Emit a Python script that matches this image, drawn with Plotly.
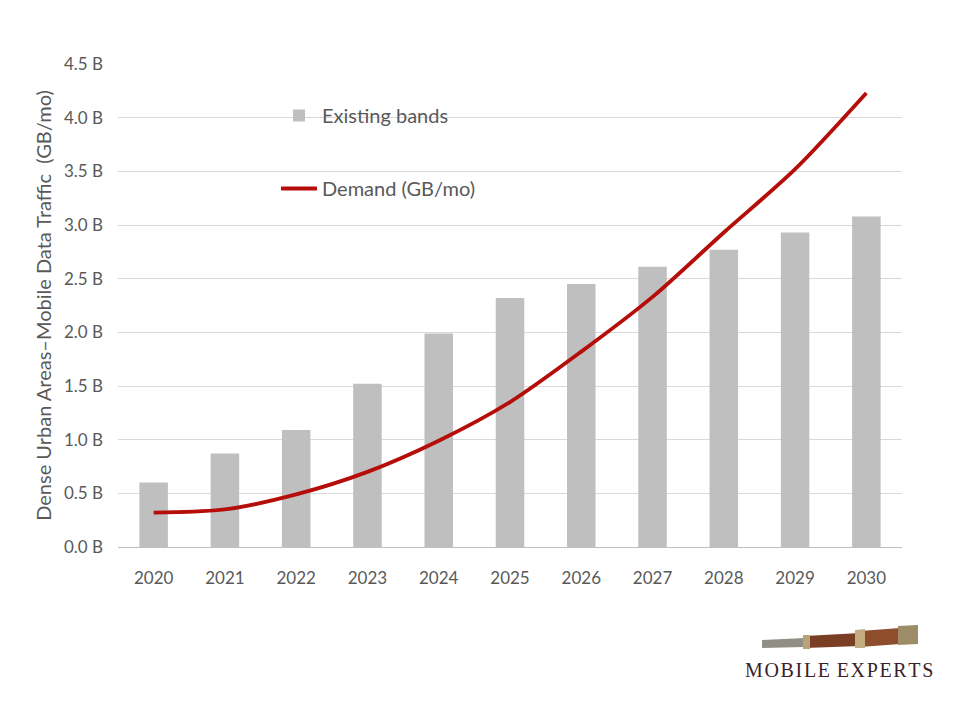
import plotly.graph_objects as go

years = ["2020", "2021", "2022", "2023", "2024", "2025", "2026", "2027", "2028", "2029", "2030"]
existing_bands = [0.60, 0.87, 1.09, 1.52, 1.99, 2.32, 2.45, 2.61, 2.77, 2.93, 3.08]
demand = [0.32, 0.35, 0.49, 0.70, 0.99, 1.35, 1.82, 2.33, 2.93, 3.52, 4.23]
y_ticks = [0, 0.5, 1.0, 1.5, 2.0, 2.5, 3.0, 3.5, 4.0, 4.5]
y_tick_labels = ["0.0 B", "0.5 B", "1.0 B", "1.5 B", "2.0 B", "2.5 B", "3.0 B", "3.5 B", "4.0 B", "4.5 B"]

ML, MR, MT, MB = 118, 58, 64, 173
W, H = 960, 720
PW, PH = W - ML - MR, H - MT - MB

def px(x):
    return (x - ML) / PW

def py(y):
    return (H - MB - y) / PH

font_main = "Lato, 'Open Sans', sans-serif"
grey_txt = "#595959"

fig = go.Figure()
fig.add_trace(go.Bar(
    x=years, y=existing_bands, name="Existing bands",
    marker=dict(color="#bfbfbf", line=dict(width=0)),
    legendgroup="a",
))
fig.add_trace(go.Scatter(
    x=years, y=demand, name="Demand (GB/mo)", mode="lines",
    line=dict(color="#b50d0a", width=3.8, shape="spline", smoothing=0.8),
    legendgroup="b",
))

shapes = []
# telescope logo (decorative)
def poly(pts, fill, line="rgba(0,0,0,0)"):
    path = "M " + " L ".join(f"{px(a):.5f},{py(b):.5f}" for a, b in pts) + " Z"
    shapes.append(dict(type="path", xref="paper", yref="paper", path=path,
                       fillcolor=fill, line=dict(color=line, width=0.5), layer="above"))

poly([(762, 640), (805, 638), (805, 647), (762, 648)], "#8f8f86")
poly([(805, 636), (860, 633), (860, 646), (805, 648)], "#7a3e24")
poly([(860, 631), (900, 628), (900, 644), (860, 647)], "#8e4d2c")
poly([(803, 635), (810, 635), (810, 649), (803, 649)], "#b8a27a")
poly([(855, 630), (865, 629), (865, 648), (855, 648)], "#c2ac80")
poly([(898, 626), (918, 625), (918, 644), (898, 645)], "#9c8c68")

hs = "\u200a"
logo_text = hs.join("MOBILE") + " " + hs + hs.join("EXPERTS")

fig.update_layout(
    width=W, height=H,
    margin=dict(l=ML, r=MR, t=MT, b=MB),
    paper_bgcolor="white", plot_bgcolor="white",
    font=dict(family=font_main, color=grey_txt, size=15),
    bargap=0.6,
    showlegend=True,
    legend=dict(
        x=px(276), y=py(96), xanchor="left", yanchor="top",
        bgcolor="rgba(0,0,0,0)", font=dict(size=20, color=grey_txt),
        tracegroupgap=44, itemwidth=36,
    ),
    xaxis=dict(
        type="category", showgrid=False, showline=True, linecolor="#bfbfbf",
        linewidth=1, ticks="", ticklabelstandoff=16,
        tickfont=dict(size=17, color=grey_txt),
    ),
    yaxis=dict(
        range=[0, 4.5], tickvals=y_ticks, ticktext=y_tick_labels,
        showgrid=True, gridcolor="#d9d9d9", gridwidth=1, zeroline=False,
        showline=False, ticks="", ticklabelstandoff=14,
        tickfont=dict(size=17, color=grey_txt),
        title=dict(text="Dense Urban Areas–Mobile Data Traffic  (GB/mo)",
                   font=dict(size=20, color=grey_txt), standoff=6),
    ),
    shapes=shapes,
    annotations=[dict(
        text=logo_text, xref="paper", yref="paper",
        x=px(839), y=py(670), xanchor="center", yanchor="middle",
        showarrow=False, font=dict(family="'Liberation Serif', serif", size=20, color="#3b1f2b"),
    )],
)

fig.write_html("out.html")
